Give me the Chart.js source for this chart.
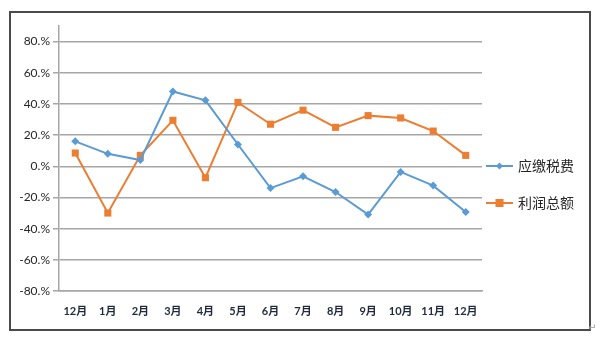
<!DOCTYPE html>
<html>
<head>
<meta charset="utf-8">
<script src="https://cdn.jsdelivr.net/npm/chart.js@4/dist/chart.umd.min.js"></script>
<style>
  html, body { margin: 0; padding: 0; background: #fff; }
  #wrap { position: relative; width: 600px; height: 340px; }
  #frame { position: absolute; left: 9px; top: 11px; width: 578px; height: 316px; border: 2px solid #4a4a4a; pointer-events: none; }
  #ret { position: absolute; left: 588px; top: 322px; font: 10px "DejaVu Sans"; color: #999; }
  canvas { position: absolute; left: 0; top: 0; }
</style>
</head>
<body>
<div id="wrap">
  <canvas id="chart" width="600" height="340"></canvas>
  <div id="frame"></div>
  <div id="ret">↵</div>
</div>
<script>
const months = ['12月', '1月', '2月', '3月', '4月', '5月', '6月', '7月', '8月', '9月', '10月', '11月', '12月'];
const taxPayable = [16, 8, 4, 48, 42.3, 14, -14, -6.4, -16.5, -31, -3.6, -12.4, -29.3];
const totalProfit = [8.5, -30, 7, 29.5, -7.3, 41, 27, 36, 25, 32.5, 31, 22.6, 7];
const yTicks = [-80, -60, -40, -20, 0, 20, 40, 60, 80];

const BLUE = '#5b9bd5';
const ORANGE = '#ed7d31';
const CJK = "Lato, 'Noto Sans CJK SC', sans-serif";

// legend on the right: short line with the series marker, then the name
const sideLegend = {
  id: 'sideLegend',
  afterDraw(chart) {
    const ctx = chart.ctx;
    const rows = [
      { text: '应缴税费', color: BLUE, marker: 'diamond', y: 166 },
      { text: '利润总额', color: ORANGE, marker: 'square', y: 203 }
    ];
    ctx.save();
    rows.forEach(r => {
      ctx.strokeStyle = r.color;
      ctx.lineWidth = 2;
      ctx.beginPath();
      ctx.moveTo(486, r.y);
      ctx.lineTo(513, r.y);
      ctx.stroke();
      ctx.fillStyle = r.color;
      const cx = 499.5;
      if (r.marker === 'diamond') {
        ctx.beginPath();
        ctx.moveTo(cx, r.y - 3.5);
        ctx.lineTo(cx + 3.5, r.y);
        ctx.lineTo(cx, r.y + 3.5);
        ctx.lineTo(cx - 3.5, r.y);
        ctx.closePath();
        ctx.fill();
      } else {
        ctx.fillRect(cx - 4, r.y - 4, 8, 8);
      }
      ctx.fillStyle = '#262626';
      ctx.font = "14px 'Noto Sans CJK SC', sans-serif";
      ctx.textBaseline = 'middle';
      ctx.textAlign = 'left';
      ctx.fillText(r.text, 518, r.y);
    });
    ctx.restore();
  }
};

new Chart(document.getElementById('chart'), {
  type: 'line',
  data: {
    labels: months,
    datasets: [
      {
        label: '应缴税费',
        data: taxPayable,
        borderColor: BLUE,
        backgroundColor: BLUE,
        borderWidth: 2,
        pointStyle: 'rectRot',
        pointRadius: 4,
        pointBorderWidth: 0,
        tension: 0
      },
      {
        label: '利润总额',
        data: totalProfit,
        borderColor: ORANGE,
        backgroundColor: ORANGE,
        borderWidth: 2,
        pointStyle: 'rect',
        pointRadius: 5,
        pointBorderWidth: 0,
        tension: 0
      }
    ]
  },
  options: {
    responsive: false,
    animation: false,
    layout: { padding: { left: 0, top: 26, right: 118, bottom: 0 } },
    plugins: {
      legend: { display: false },
      tooltip: { enabled: false }
    },
    scales: {
      x: {
        offset: true,
        grid: { display: false, drawTicks: false },
        border: { color: '#a6a6a6', width: 1.5 },
        ticks: {
          padding: 14,
          color: '#1f2a3c',
          font: { family: CJK, size: 11, weight: 'bold' },
          maxRotation: 0,
          autoSkip: false
        },
        afterFit(scale) { scale.height = 49; }
      },
      y: {
        min: -80,
        max: 90,
        afterBuildTicks(scale) {
          scale.ticks = yTicks.map(v => ({ value: v }));
        },
        grid: { color: '#a6a6a6', lineWidth: 1.5, tickLength: 6 },
        border: { color: '#a6a6a6', width: 1.5 },
        ticks: {
          padding: 3,
          color: '#262626',
          font: { family: CJK, size: 12 },
          callback: v => v + '.%'
        },
        afterFit(scale) { scale.width = 59; }
      }
    }
  },
  plugins: [sideLegend]
});
</script>
</body>
</html>
